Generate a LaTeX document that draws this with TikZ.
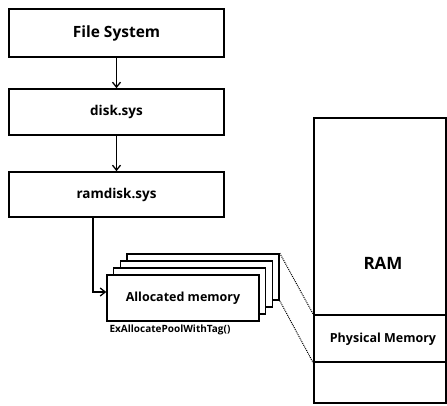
\documentclass[tikz,border=0pt]{standalone}
\usepackage{fontspec}
\setmainfont{Open Sans}
\usetikzlibrary{arrows.meta}
\begin{document}
\begin{tikzpicture}[x=1pt,y=-1pt,
  box/.style={draw=black,line width=1.6pt,fill=white,inner sep=0pt,
    font=\bfseries\fontsize{13.5}{15}\selectfont},
  pagebox/.style={draw=black,line width=1.6pt,fill=white,inner sep=0pt,
    minimum width=152pt,minimum height=46pt},
  link/.style={line width=1.3pt,-{Straight Barb[length=5pt,width=8pt]}},
  guide/.style={line width=1pt,densely dotted},
  lbl/.style={font=\bfseries\fontsize{10}{12}\selectfont,inner sep=0pt}]
\useasboundingbox (0,0) rectangle (447,405);

% driver stack
\node[box,minimum width=215pt,minimum height=48pt,
  font=\bfseries\fontsize{15.5}{17}\selectfont] (fs) at (116.5,33) {File System};
\node[box,minimum width=215pt,minimum height=46pt] (disk) at (116.5,112) {disk.sys};
\node[box,minimum width=215pt,minimum height=45pt] (ramdisk) at (116.5,194.5) {ramdisk.sys};
\draw[link] (fs.south) -- (disk.north);
\draw[link] (disk.south) -- (ramdisk.north);

% pages of allocated pool memory
\node[pagebox] (mem4) at (203,277) {};
\node[pagebox] (mem3) at (196.3,284) {};
\node[pagebox] (mem2) at (189.6,291) {};
\node[pagebox,font=\bfseries\fontsize{12.5}{14}\selectfont] (mem1) at (183,298) {Allocated memory};
\node[lbl] (call) at (170,330) {ExAllocatePoolWithTag()};
\draw[link] ([xshift=-23.5pt]ramdisk.south) |- ([yshift=6pt]mem1.west);

% physical RAM
\node[draw=black,line width=1.6pt,minimum width=132pt,minimum height=285pt,inner sep=0pt]
  (ram) at (380,260.5) {};
\node[draw=black,line width=1.6pt,minimum width=132pt,minimum height=47pt,inner sep=0pt]
  (phys) at (380,338.5) {};
\node[font=\bfseries\fontsize{12.5}{14}\selectfont,inner sep=0pt] (physlbl) at (383,339) {Physical Memory};
\node[font=\bfseries\fontsize{17}{19}\selectfont,inner sep=0pt] (ramlbl) at (383,263) {RAM};

% mapping of the pool pages onto RAM
\draw[guide] (mem4.north east) -- (phys.north west);
\draw[guide] (mem4.south east) -- (phys.south west);
\end{tikzpicture}
\end{document}
